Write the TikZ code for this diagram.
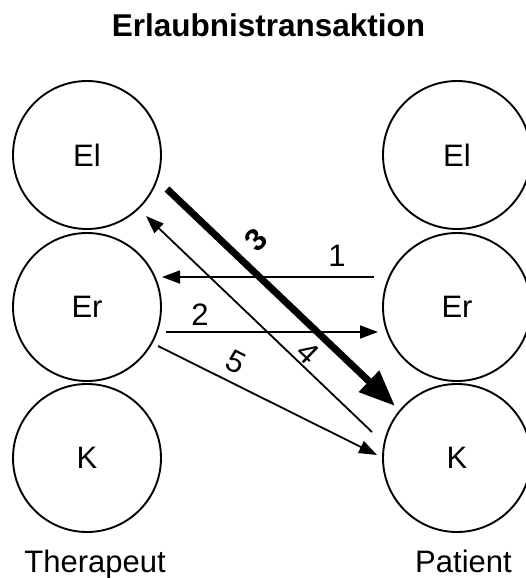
\documentclass[tikz,border=0pt]{standalone}
\usepackage{fontspec}
\setmainfont{Liberation Sans}
\usetikzlibrary{arrows.meta}
\begin{document}
\begin{tikzpicture}[x=1pt,y=-1pt,
  state/.style={circle,draw,line width=1.9pt,minimum size=148pt,inner sep=0pt,font=\fontsize{31}{31}\selectfont},
  lbl/.style={font=\fontsize{31}{31}\selectfont,inner sep=0pt},
  thin/.style={line width=1.8pt,-{Triangle[length=18pt,width=13pt]}},
  thick/.style={line width=7pt,-{Triangle[length=36pt,width=28pt]}}]
\useasboundingbox (0,0) rectangle (525,578);
% title and column captions
\node[lbl,font=\fontsize{31.5}{31.5}\selectfont\bfseries,anchor=base] (title) at (268.5,37) {Erlaubnistransaktion};
\node[lbl,anchor=base] (ther) at (95,572) {Therapeut};
\node[lbl,anchor=base] (pat) at (463.5,572) {Patient};
% ego states of the therapist
\node[state] (tEl) at (87,155) {El};
\node[state] (tEr) at (87,307) {Er};
\node[state] (tK)  at (87,458) {K};
% ego states of the patient
\node[state] (pEl) at (457,155) {El};
\node[state] (pEr) at (457,307) {Er};
\node[state] (pK)  at (457,458) {K};
% end points of the transactions
\coordinate (a1s) at (374,277); \coordinate (a1e) at (162,277);
\coordinate (a2s) at (166,332); \coordinate (a2e) at (378,332);
\coordinate (a3s) at (167,189); \coordinate (a3e) at (395,406);
\coordinate (a4s) at (372,432); \coordinate (a4e) at (146,216);
\coordinate (a5s) at (158,346); \coordinate (a5e) at (377,455);
% transactions
\draw[thin] (a1s) -- (a1e);
\draw[thin] (a2s) -- (a2e);
\draw[thin] (a4s) -- (a4e);
\draw[thin] (a5s) -- (a5e);
\draw[thick] (a3s) -- (a3e);
% numbers
\node[lbl] (n1) at (337,256) {1};
\node[lbl] (n2) at (200,315) {2};
\node[lbl,font=\fontsize{31}{31}\selectfont\bfseries,rotate=45] (n3) at (256,240) {3};
\node[lbl,rotate=-44] (n4) at (308,353) {4};
\node[lbl,rotate=-27] (n5) at (236,362) {5};
\end{tikzpicture}
\end{document}
